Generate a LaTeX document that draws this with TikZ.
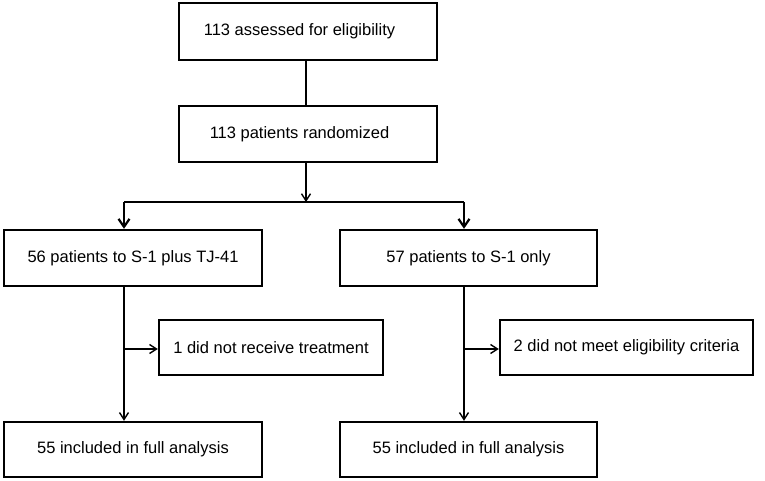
\documentclass[tikz,border=0pt]{standalone}
\usepackage{fontspec}
\setmainfont{Liberation Sans}
\usetikzlibrary{arrows.meta}
\begin{document}
\begin{tikzpicture}[x=1pt,y=-1pt,
  box/.style={draw=black,line width=2.4pt,minimum height=#1,inner sep=0pt,font=\fontsize{16.5}{19}\selectfont},
  conn/.style={line width=1.4pt,-{Straight Barb[length=7pt,width=9pt,line width=1.4pt]}},
  branch/.style={line width=2.2pt,-{Straight Barb[length=8pt,width=11pt,line width=2.2pt]}},
  plain/.style={line width=1.4pt}]
\useasboundingbox (0,0) rectangle (765,481);
\node[box=57pt,minimum width=258pt] (top) at (308,31.5) {113 assessed for eligibility\hspace*{17pt}};
\node[box=56pt,minimum width=258pt] (rand) at (308,134) {113 patients randomized\hspace*{17pt}};
\node[box=56pt,minimum width=258pt] (L) at (133,258) {56 patients to S-1 plus TJ-41};
\node[box=56pt,minimum width=257pt] (R) at (468.5,258) {57 patients to S-1 only};
\node[box=55pt,minimum width=224pt] (SL) at (271,347.5) {1 did not receive treatment};
\node[box=55pt,minimum width=253pt] (SR) at (626.5,347.5) {2 did not meet eligibility criteria};
\node[box=55pt,minimum width=258pt] (BL) at (133,449.5) {55 included in full analysis};
\node[box=55pt,minimum width=257pt] (BR) at (468.5,449.5) {55 included in full analysis};
\coordinate (j) at (306,202);
\coordinate (jl) at (124,202);
\coordinate (jr) at (464,202);
\coordinate (ml) at (124,349);
\coordinate (mr) at (464,349);
\draw[plain] (top.south -| j) -- (rand.north -| j);
\draw[conn] (rand.south -| j) -- (j);
\draw[line width=2.2pt] (jl) -- (jr);
\draw[branch] (jl) -- (L.north -| jl);
\draw[branch] (jr) -- (R.north -| jr);
\draw[conn] (L.south -| jl) -- (BL.north -| jl);
\draw[conn] (R.south -| jr) -- (BR.north -| jr);
\draw[conn] (ml) -- (SL.west |- ml);
\draw[conn] (mr) -- (SR.west |- mr);
\end{tikzpicture}
\end{document}
